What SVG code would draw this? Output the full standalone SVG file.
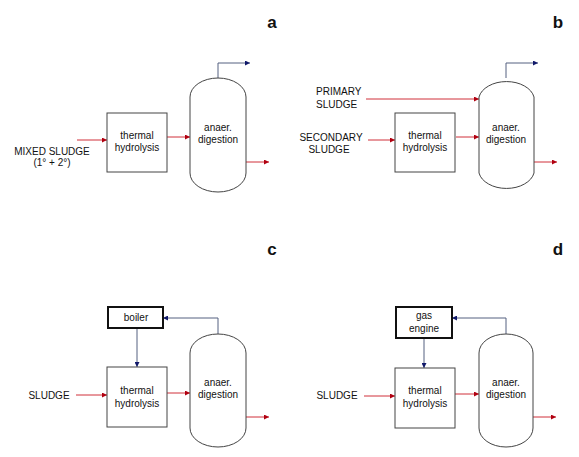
<svg xmlns="http://www.w3.org/2000/svg" width="579" height="457" viewBox="0 0 579 457">
<defs>
<marker id="ar" viewBox="0 0 6 6" refX="6" refY="3" markerWidth="5" markerHeight="5" markerUnits="userSpaceOnUse" orient="auto"><path d="M0,0 L6,3 L0,6 Z" fill="#b00010"/></marker>
<marker id="ab" viewBox="0 0 6 6" refX="6" refY="3" markerWidth="5" markerHeight="5" markerUnits="userSpaceOnUse" orient="auto"><path d="M0,0 L6,3 L0,6 Z" fill="#10186a"/></marker>
</defs>
<style>
text{font-family:"Liberation Sans",Arial,sans-serif;font-size:10px;fill:#111}
.m{text-anchor:middle}
.lbl{font-size:17px;font-weight:bold;text-anchor:middle}
.box{fill:#fff;stroke:#444;stroke-width:1}
.hb{fill:#fff;stroke:#111;stroke-width:2}
.dig{fill:#fff;stroke:#444;stroke-width:1}
.r{fill:none;stroke:#d0303a;stroke-width:1;marker-end:url(#ar)}
.b{fill:none;stroke:#556080;stroke-width:1;marker-end:url(#ab)}
</style>
<rect width="579" height="457" fill="#fff"/>
<text class="lbl" x="272" y="28">a</text>
<text class="lbl" x="558" y="28">b</text>
<text class="lbl" x="272" y="255">c</text>
<text class="lbl" x="558" y="255">d</text>

<g id="connectors">
<!-- a -->
<path class="r" d="M77,140 H107"/>
<path class="r" d="M167,137 H190"/>
<path class="r" d="M246,162 H269"/>
<path class="b" d="M218,78 V63 H250"/>
<!-- b -->
<path class="r" d="M366,99 H479"/>
<path class="r" d="M368,140 H395"/>
<path class="r" d="M456,137 H479"/>
<path class="r" d="M534,162 H557"/>
<path class="b" d="M506,78 V63 H538"/>
<!-- c -->
<path class="r" d="M76,395 H107"/>
<path class="r" d="M167,393 H190"/>
<path class="r" d="M246,417 H269"/>
<path class="b" d="M218,334 V318 H163"/>
<path class="b" d="M137,329 V367"/>
<!-- d -->
<path class="r" d="M364,396 H395"/>
<path class="r" d="M455,394 H479"/>
<path class="r" d="M533,417 H556"/>
<path class="b" d="M506,334 V318 H452"/>
<path class="b" d="M424,339 V368"/>
</g>

<g id="a-feed"><text class="m" x="52" y="155">MIXED SLUDGE</text><text class="m" x="52" y="166">(1° + 2°)</text></g>
<g id="a-th"><rect class="box" x="107" y="113" width="60" height="59"/><text class="m" x="137" y="139">thermal</text><text class="m" x="137" y="151">hydrolysis</text></g>
<g id="a-ad"><path class="dig" d="M190,97 A28,19 0 0 1 246,97 V173 A28,19 0 0 1 190,173 Z"/><text class="m" x="218" y="131">anaer.</text><text class="m" x="218" y="143">digestion</text></g>

<g id="b-primary"><text x="316" y="95">PRIMARY</text><text x="316" y="108">SLUDGE</text></g>
<g id="b-secondary"><text class="m" x="331" y="141">SECONDARY</text><text class="m" x="329" y="153">SLUDGE</text></g>
<g id="b-th"><rect class="box" x="395" y="113" width="60" height="59"/><text class="m" x="425" y="139">thermal</text><text class="m" x="425" y="151">hydrolysis</text></g>
<g id="b-ad"><path class="dig" d="M479,97 A28,19 0 0 1 534,97 V173 A28,19 0 0 1 479,173 Z"/><text class="m" x="506" y="131">anaer.</text><text class="m" x="506" y="143">digestion</text></g>

<g id="c-feed"><text class="m" x="49" y="399">SLUDGE</text></g>
<g id="c-boiler"><rect class="hb" x="108" y="307" width="55" height="21"/><text class="m" x="136" y="321">boiler</text></g>
<g id="c-th"><rect class="box" x="107" y="367" width="60" height="60"/><text class="m" x="137" y="394">thermal</text><text class="m" x="137" y="407">hydrolysis</text></g>
<g id="c-ad"><path class="dig" d="M190,353 A28,19 0 0 1 246,353 V428 A28,19 0 0 1 190,428 Z"/><text class="m" x="218" y="386">anaer.</text><text class="m" x="218" y="398">digestion</text></g>

<g id="d-feed"><text class="m" x="337" y="399">SLUDGE</text></g>
<g id="d-engine"><rect class="hb" x="396" y="307" width="56" height="31"/><text class="m" x="424" y="319">gas</text><text class="m" x="424" y="332">engine</text></g>
<g id="d-th"><rect class="box" x="395" y="368" width="60" height="60"/><text class="m" x="425" y="394">thermal</text><text class="m" x="425" y="407">hydrolysis</text></g>
<g id="d-ad"><path class="dig" d="M479,353 A27,19 0 0 1 533,353 V428 A27,19 0 0 1 479,428 Z"/><text class="m" x="506" y="386">anaer.</text><text class="m" x="506" y="398">digestion</text></g>
</svg>
